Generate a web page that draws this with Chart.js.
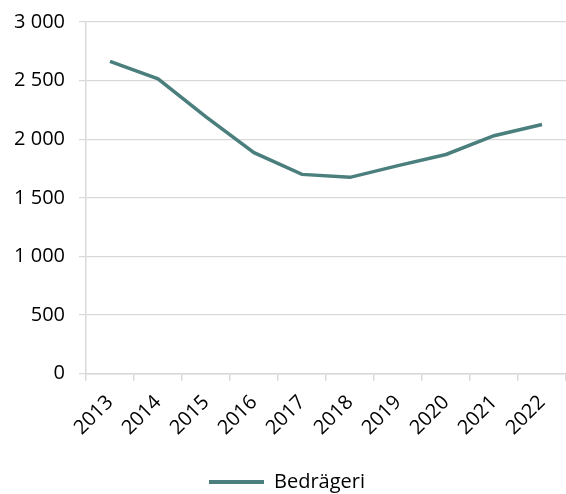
<!DOCTYPE html>
<html><head><meta charset="utf-8">
<script src="https://cdn.jsdelivr.net/npm/chart.js@4"></script>
<style>html,body{margin:0;padding:0;background:#fff}</style>
</head><body>
<canvas id="c" width="566" height="494"></canvas>
<script>
const categories = ["2013","2014","2015","2016","2017","2018","2019","2020","2021","2022"];
const seriesName = "Bedrägeri";
const values = [2665, 2515, 2190, 1885, 1700, 1675, 1775, 1870, 2030, 2125];
const yTicks = [0, 500, 1000, 1500, 2000, 2500, 3000];
const lineColor = "#4A7F7D";
const fmt = v => String(v).replace(/\B(?=(\d{3})+(?!\d))/g, " ");
const font = {family: "'Open Sans', sans-serif", size: 20};
new Chart(document.getElementById('c'), {
  type: 'line',
  data: {labels: categories, datasets: [{label: seriesName, data: values, borderColor: lineColor, backgroundColor: lineColor, borderWidth: 3.5, pointRadius: 0, tension: 0, fill: false}]},
  options: {
    responsive: false, animation: false,
    layout: {padding: {top: 22, right: -2, left: 6, bottom: -8}},
    plugins: {
      legend: {position: 'bottom', labels: {color: '#000', font: font, boxWidth: 55, boxHeight: 4, padding: 16,
        generateLabels: ch => ch.data.datasets.map((d,i) => ({text: d.label, fillStyle: d.borderColor, strokeStyle: d.borderColor, lineWidth: 0, datasetIndex: i, fontColor: '#000'}))}},
      tooltip: {enabled: false}
    },
    scales: {
      x: {offset: true,
        afterFit: ax => { ax.height += 6; ax.paddingRight = 0; ax.paddingLeft = 0; },
        grid: {offset: true, drawOnChartArea: false, tickLength: 7, color: '#d9d9d9', lineWidth: 1.5},
        border: {color: '#d9d9d9', width: 1.5},
        ticks: {color: '#000', font: font, minRotation: 45, maxRotation: 45, padding: 10}},
      y: {min: 0, max: 3000, afterBuildTicks: ax => { ax.ticks = yTicks.map(v => ({value: v})); },
        grid: {color: '#d9d9d9', lineWidth: 1.2, tickLength: 7},
        border: {color: '#d9d9d9', width: 1.5},
        afterFit: ax => { ax.width = 80; ax.paddingTop = 0; },
        ticks: {color: '#000', font: font, padding: 14, callback: v => fmt(v)}}
    }
  }
});
</script>
</body></html>
